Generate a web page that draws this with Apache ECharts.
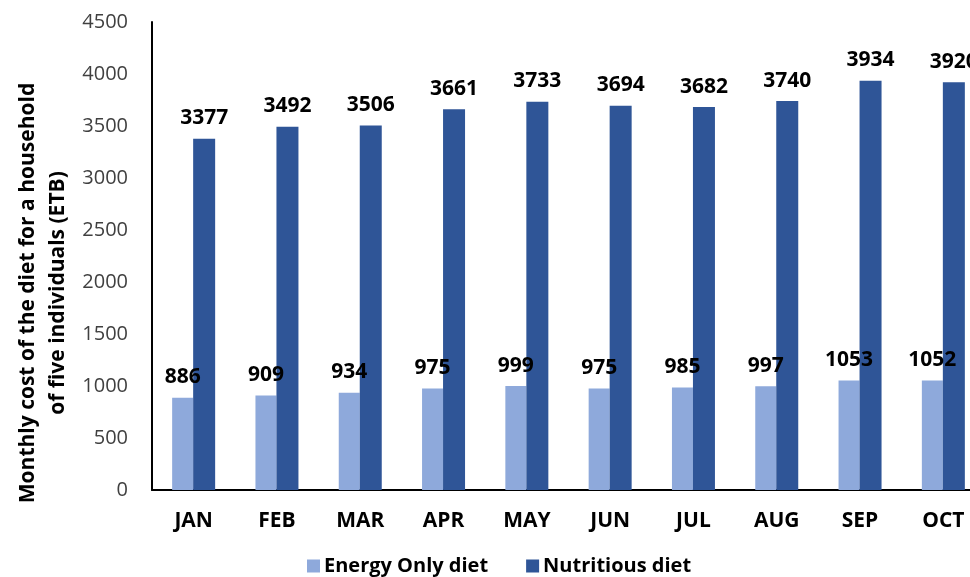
<!DOCTYPE html>
<html>
<head>
<meta charset="utf-8">
<script src="https://cdn.jsdelivr.net/npm/echarts@6/dist/echarts.min.js"></script>
<style>
html,body{margin:0;padding:0;background:#fff;overflow:hidden;width:970px;height:577px;}
#chart{width:990px;height:577px;}
</style>
</head>
<body>
<div id="chart"></div>
<script>
const categories = ['JAN','FEB','MAR','APR','MAY','JUN','JUL','AUG','SEP','OCT'];
const energyOnly = [886, 909, 934, 975, 999, 975, 985, 997, 1053, 1052];
const nutritious = [3377, 3492, 3506, 3661, 3733, 3694, 3682, 3740, 3934, 3920];
const seriesNames = ['Energy Only diet', 'Nutritious diet'];
const yTitle = 'Monthly cost of the diet for a household\nof five individuals (ETB)';

const FONT = '"Open Sans", "Segoe UI", sans-serif';
const chart = echarts.init(document.getElementById('chart'), null, {renderer:'canvas'});
const labelStyle = {
  show: true, position: 'top', distance: 10,
  fontFamily: FONT, fontWeight: 'bold', fontSize: 21, color: '#000'
};
chart.setOption({
  animation: false,
  backgroundColor: '#fff',
  grid: {left: 152, top: 22, width: 833, height: 468, containLabel: false},
  legend: {
    data: seriesNames,
    left: 302, top: 551,
    itemWidth: 13, itemHeight: 13, itemGap: 38,
    icon: 'rect',
    textStyle: {fontFamily: FONT, fontWeight: 'bold', fontSize: 20, color: '#000', padding: [0,0,0,-1]}
  },
  graphic: [{
    type: 'text',
    x: 43, y: 293,
    rotation: Math.PI / 2,
    style: {
      text: yTitle,
      fontFamily: FONT, fontWeight: 'bold', fontSize: 21, lineHeight: 30,
      fill: '#000', align: 'center', verticalAlign: 'middle'
    }
  }],
  xAxis: {
    type: 'category',
    data: categories,
    axisLine: {show: true, lineStyle: {color: '#000', width: 2}},
    axisTick: {show: false},
    axisLabel: {fontFamily: FONT, fontWeight: 'bold', fontSize: 21, color: '#000', margin: 21}
  },
  yAxis: {
    type: 'value',
    min: 0, max: 4500, interval: 500,
    axisLine: {show: true, lineStyle: {color: '#000', width: 2}},
    axisTick: {show: false},
    splitLine: {show: false},
    axisLabel: {fontFamily: FONT, fontSize: 20, color: '#404040', margin: 24,
      formatter: v => String(v)}
  },
  series: [
    {
      name: seriesNames[0], type: 'bar', data: energyOnly,
      barWidth: 21, barGap: '0%',
      itemStyle: {color: '#8EA9DB'},
      label: labelStyle
    },
    {
      name: seriesNames[1], type: 'bar', data: nutritious,
      barWidth: 22, barGap: '0%',
      itemStyle: {color: '#2F5597'},
      label: labelStyle
    }
  ]
});
</script>
</body>
</html>
